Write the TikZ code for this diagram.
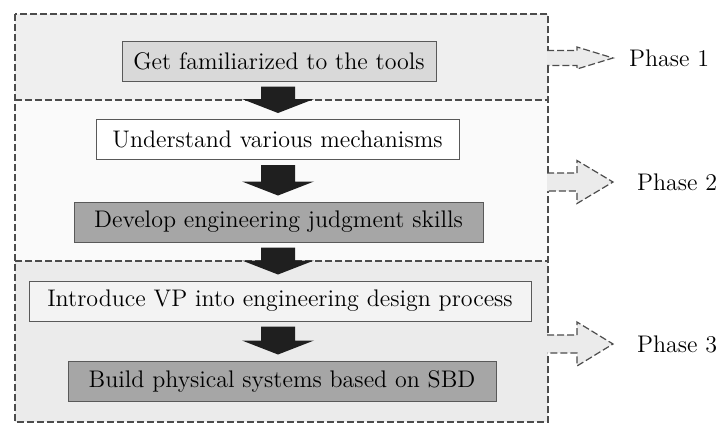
\documentclass[tikz,border=0pt]{standalone}
\usepackage{tikz}
\usetikzlibrary{calc}
\definecolor{phaseone}{HTML}{EFEFEF}
\definecolor{phasetwo}{HTML}{FAFAFA}
\definecolor{phasethree}{HTML}{EBEBEB}
\definecolor{stagelight}{HTML}{D9D9D9}
\definecolor{stagedark}{HTML}{A6A6A6}
\definecolor{stagepale}{HTML}{F3F3F3}

% solid block arrow from one stage box down to the next
\newcommand{\flowarrow}[2]{%
  \coordinate (#1-out) at ($(spine |- #1.south)+(0,5)$);
  \coordinate (#2-in)  at ($(spine |- #2.north)+(0,-6)$);
  \fill[blockarrow] ($(#1-out)+(-17,0)$) -- ($(#2-in)+(-17,-14)$)
    -- ($(#2-in)+(-36,-14)$) -- (#2-in) -- ($(#2-in)+(36,-14)$)
    -- ($(#2-in)+(17,-14)$) -- ($(#1-out)+(17,0)$) -- cycle;}

% dashed open arrow from the frame to a phase label
\newcommand{\phasearrow}[3]{%
  \coordinate (#1-base) at ($(frameright |- #1.west)+(-1,0)$);
  \filldraw[phasearrow] ($(#1-base)+(0,-#2)$) -- ($(#1-base)+(30,-#2)$)
    -- ($(#1-base)+(30,-#3)$) -- ($(#1-base)+(66,0)$)
    -- ($(#1-base)+(30,#3)$) -- ($(#1-base)+(30,#2)$)
    -- ($(#1-base)+(0,#2)$);}

\begin{document}
\begin{tikzpicture}[x=0.5pt, y=-0.5pt,
    stagebox/.style={draw=black!65, line width=0.5pt, minimum height=20pt,
      inner xsep=0pt, font=\fontsize{12}{14}\selectfont},
    phaseline/.style={draw=black!70, dash pattern=on 3.5pt off 1.5pt,
      line width=0.6pt},
    phasearrow/.style={phaseline, fill=phasethree},
    phaselabel/.style={font=\fontsize{12}{14}\selectfont, anchor=west},
    blockarrow/.style={fill=black!88}]
  \useasboundingbox (0,0) rectangle (719,424);
  \coordinate (spine) at (278,0);
  \coordinate (frameright) at (548,0);

  % Phase bands
  \fill[phaseone]   (15,14)  rectangle (548,100);
  \fill[phasetwo]   (15,100) rectangle (548,261);
  \fill[phasethree] (15,261) rectangle (548,422);

  % Dashed frame and phase borders
  \draw[phaseline] (15,14) rectangle (548,422);
  \draw[phaseline] (15,100) -- (548,100);
  \draw[phaseline] (15,261) -- (548,261);

  % Stage boxes
  \node[stagebox, fill=stagelight, minimum width=157pt] (tools)
    at (279,61) {Get familiarized to the tools};
  \node[stagebox, fill=white, minimum width=181.5pt] (mech)
    at (277.5,139.5) {Understand various mechanisms};
  \node[stagebox, fill=stagedark, minimum width=204.5pt] (judge)
    at (278.5,222) {Develop engineering judgment skills};
  \node[stagebox, fill=stagepale, minimum width=251pt] (vp)
    at (280,301) {Introduce VP into engineering design process};
  \node[stagebox, fill=stagedark, minimum width=214pt] (sbd)
    at (282,381) {Build physical systems based on SBD};

  % Arrows between stages
  \flowarrow{tools}{mech}
  \flowarrow{mech}{judge}
  \flowarrow{judge}{vp}
  \flowarrow{vp}{sbd}

  % Phase labels
  \node[phaselabel] (ph1) at (622,58)  {Phase 1};
  \node[phaselabel] (ph2) at (630,182) {Phase 2};
  \node[phaselabel] (ph3) at (630,344) {Phase 3};

  % Phase arrows
  \phasearrow{ph1}{7.5}{11}
  \phasearrow{ph2}{9}{21.5}
  \phasearrow{ph3}{9}{22}
\end{tikzpicture}
\end{document}
